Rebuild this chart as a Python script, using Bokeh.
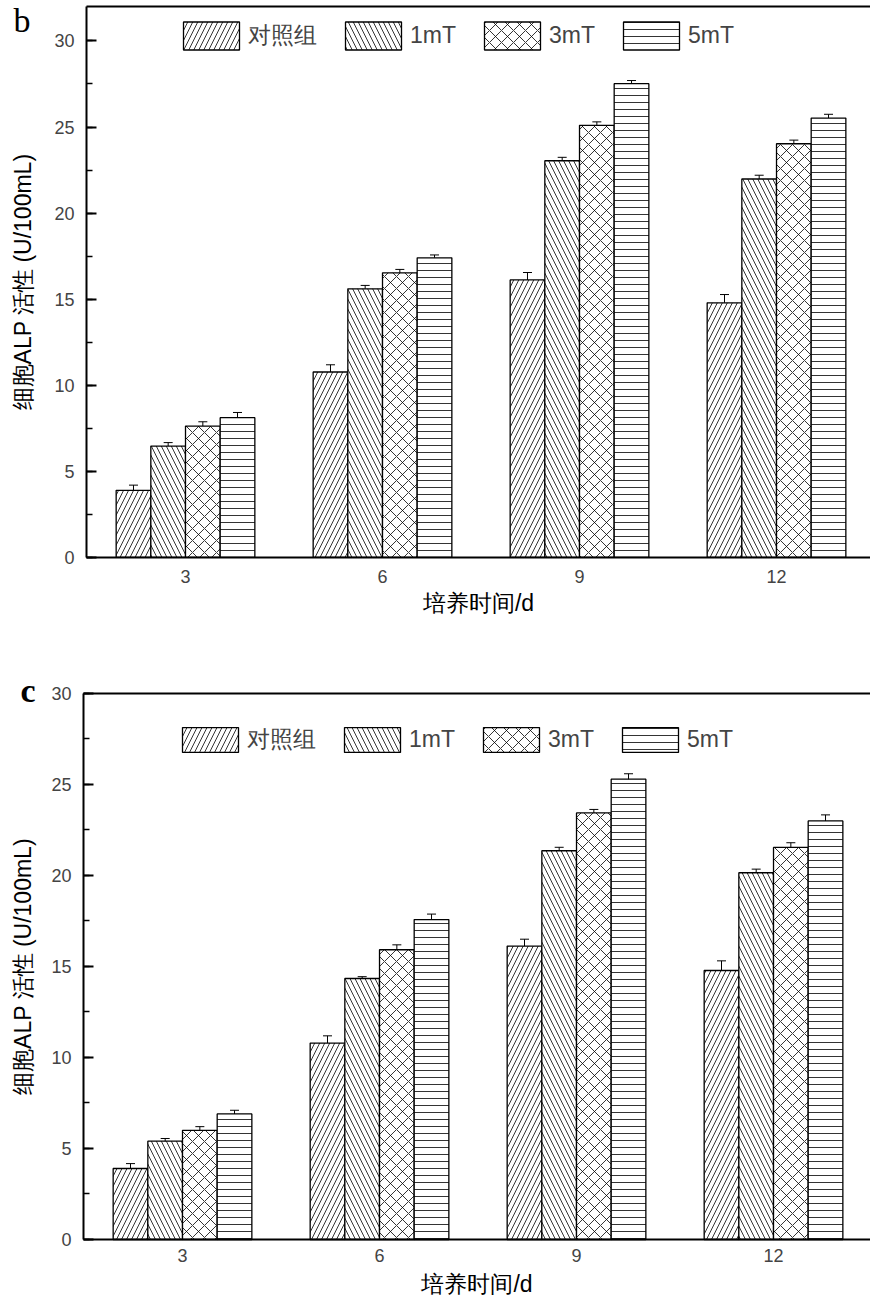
import math
from bokeh.plotting import figure
from bokeh.models import (ColumnDataSource, Whisker, TeeHead, Legend, LegendItem, Label,
                          LinearAxis, FixedTicker, SingleIntervalTicker, Range1d)
from bokeh.transform import dodge
from bokeh.layouts import column
from bokeh.embed import file_html
from bokeh.resources import INLINE

days = ["3", "6", "9", "12"]
groups = ["对照组", "1mT", "3mT", "5mT"]
x_title = "培养时间/d"
y_title = "细胞ALP 活性 (U/100mL)"

# panel b
b_ctrl = [3.9, 10.77, 16.12, 14.79]
b_1mT = [6.47, 15.6, 23.04, 21.98]
b_3mT = [7.63, 16.53, 25.1, 24.03]
b_5mT = [8.12, 17.4, 27.52, 25.52]
b_ctrl_err = [0.3, 0.42, 0.43, 0.48]
b_1mT_err = [0.2, 0.2, 0.2, 0.22]
b_3mT_err = [0.25, 0.2, 0.2, 0.21]
b_5mT_err = [0.3, 0.17, 0.18, 0.22]

# panel c
c_ctrl = [3.9, 10.79, 16.12, 14.78]
c_1mT = [5.4, 14.34, 21.36, 20.15]
c_3mT = [6.0, 15.92, 23.44, 21.54]
c_5mT = [6.9, 17.58, 25.29, 23.0]
c_ctrl_err = [0.27, 0.4, 0.38, 0.53]
c_1mT_err = [0.15, 0.1, 0.19, 0.2]
c_3mT_err = [0.2, 0.27, 0.19, 0.26]
c_5mT_err = [0.2, 0.3, 0.3, 0.33]

hatches = ["/", "\\", "x", "-"]
hatch_scales = [10, 10, 12, 7]
BW = 0.176
offsets = [-1.5 * BW, -0.5 * BW, 0.5 * BW, 1.5 * BW]
FONT = "Liberation Sans"
XA = 0.4975  # data position of the left axis


def panel(letter, letter_style, series, errors, y_top, y_start, y_end, height,
          x_start, x_end, leg_loc, glyph_h, letter_xy, ml_standoff, xlab_y, ylab_x):
    p = figure(width=870, height=height, x_range=Range1d(x_start, x_end),
               y_range=Range1d(y_start, y_end), output_backend="svg", toolbar_location=None,
               min_border=0, x_axis_location=None, y_axis_location=None)
    p.outline_line_color = None
    p.grid.visible = False
    p.background_fill_color = "white"

    data = dict(x=list(range(1, len(days) + 1)))
    for i, (vals, errs) in enumerate(zip(series, errors)):
        data[f"v{i}"] = vals
        data[f"lo{i}"] = [v - e for v, e in zip(vals, errs)]
        data[f"hi{i}"] = [v + e for v, e in zip(vals, errs)]
    src = ColumnDataSource(data)

    items = []
    for i in range(4):
        r = p.vbar(x=dodge("x", offsets[i]), top=f"v{i}", width=BW, bottom=0, source=src,
                   fill_color="white", line_color="black", line_width=1.3,
                   hatch_pattern=hatches[i], hatch_color="black", hatch_weight=0.8,
                   hatch_scale=hatch_scales[i])
        items.append(LegendItem(label=groups[i], renderers=[r]))
        w = Whisker(source=src, base=dodge("x", offsets[i]), upper=f"hi{i}", lower=f"lo{i}",
                    line_color="black", line_width=1,
                    upper_head=TeeHead(size=9, line_color="black", line_width=1),
                    lower_head=TeeHead(size=9, line_color="black", line_width=1))
        p.add_layout(w)

    leg = Legend(items=items, orientation="horizontal", location=leg_loc,
                 glyph_width=70, glyph_height=glyph_h, label_standoff=2, spacing=21,
                 padding=0, margin=0, border_line_color=None, background_fill_alpha=0,
                 label_text_font=FONT, label_text_font_size="23px", label_height=glyph_h)
    p.add_layout(leg)

    # bottom axis at y = 0
    xa = LinearAxis(fixed_location=0, bounds=(XA, x_end),
                    ticker=FixedTicker(ticks=list(range(1, len(days) + 1))))
    xa.major_label_overrides = {i + 1: d for i, d in enumerate(days)}
    xa.major_tick_in = 0
    xa.major_tick_out = 0
    xa.minor_tick_in = 0
    xa.minor_tick_out = 0
    xa.axis_line_width = 2
    xa.major_label_text_font = FONT
    xa.major_label_text_font_size = "18px"
    xa.major_label_standoff = ml_standoff
    p.add_layout(xa, "below")

    # left axis at x = XA
    ya = LinearAxis(fixed_location=XA, bounds=(0, y_top),
                    ticker=SingleIntervalTicker(interval=5, num_minor_ticks=2))
    ya.major_tick_in = 10
    ya.major_tick_out = 0
    ya.minor_tick_in = 6
    ya.minor_tick_out = 0
    ya.major_tick_line_width = 2
    ya.minor_tick_line_width = 1.5
    ya.axis_line_width = 2
    ya.major_label_text_font = FONT
    ya.major_label_text_font_size = "18px"
    ya.major_label_standoff = 12
    p.add_layout(ya, "left")

    # top frame line
    top = LinearAxis(fixed_location=y_top, bounds=(XA, x_end), ticker=FixedTicker(ticks=[]),
                     major_label_text_font_size="0px", major_tick_in=0, major_tick_out=0,
                     minor_tick_in=0, minor_tick_out=0, axis_line_width=2)
    p.add_layout(top, "above")

    # axis titles
    p.add_layout(Label(x=(XA + x_end) / 2, y=xlab_y, x_units="data", y_units="screen",
                       text=x_title, text_font=FONT, text_font_size="23px",
                       text_align="center", text_baseline="middle", text_color="black"))
    p.add_layout(Label(x=ylab_x, y=y_top / 2, x_units="screen", y_units="data",
                       text=y_title, text_font=FONT, text_font_size="23px", angle=math.pi / 2,
                       text_align="center", text_baseline="middle", text_color="black"))

    p.add_layout(Label(x=letter_xy[0], y=letter_xy[1], x_units="screen", y_units="screen",
                       text=letter, text_font="Liberation Serif", text_font_size="34px",
                       text_font_style=letter_style, text_baseline="alphabetic",
                       text_color="black"))
    return p


pb = panel("b", "normal", [b_ctrl, b_1mT, b_3mT, b_5mT],
           [b_ctrl_err, b_1mT_err, b_3mT_err, b_5mT_err],
           32, -3.953, 32.349, 625, 0.0609, 4.4771, (176, 572), 35, (13, 605), 13, 23, 22)
pc = panel("c", "bold", [c_ctrl, c_1mT, c_3mT, c_5mT],
           [c_ctrl_err, c_1mT_err, c_3mT_err, c_5mT_err],
           30, -3.242, 33.736, 673, 0.0761, 4.4923, (175, 543), 31, (20, 608), 10, 15, 22)

layout = column(pb, pc, spacing=0)
open("out.html", "w").write(file_html(layout, INLINE))
